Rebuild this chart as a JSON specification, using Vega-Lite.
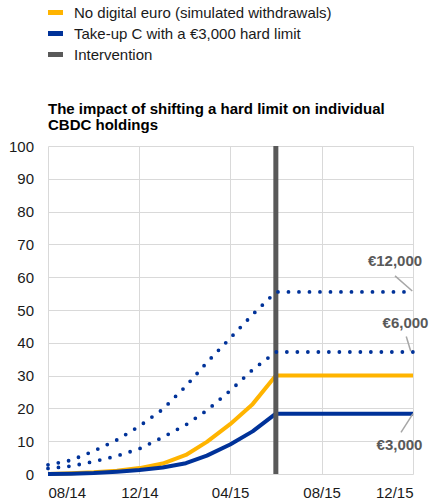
{
  "$schema": "https://vega.github.io/schema/vega-lite/v6.json",
  "autosize": {"type": "none"},
  "width": 365,
  "height": 328,
  "padding": {"left": 48, "top": 146, "right": 19, "bottom": 28},
  "background": "white",
  "config": {
    "view": {"stroke": null},
    "font": "Liberation Sans",
    "axis": {"labelFont": "Liberation Sans", "labelFontSize": 15, "labelColor": "#1a1a1a", "gridColor": "#d9d9d9", "gridWidth": 1, "domain": false, "ticks": false, "labelOverlap": false}
  },
  "title": {
    "text": ["The impact of shifting a hard limit on individual", "CBDC holdings"],
    "anchor": "start",
    "frame": "group",
    "font": "Liberation Sans",
    "fontSize": 15,
    "fontWeight": "bold",
    "color": "#000000",
    "lineHeight": 16,
    "offset": 0,
    "dy": 128
  },
  "datasets": {
    "series": [
      {"date": "2014-08-01", "series": "No digital euro (simulated withdrawals)", "value": 0},
      {"date": "2014-09-01", "series": "No digital euro (simulated withdrawals)", "value": 0.2},
      {"date": "2014-10-01", "series": "No digital euro (simulated withdrawals)", "value": 0.5},
      {"date": "2014-11-01", "series": "No digital euro (simulated withdrawals)", "value": 1.0},
      {"date": "2014-12-01", "series": "No digital euro (simulated withdrawals)", "value": 1.8},
      {"date": "2015-01-01", "series": "No digital euro (simulated withdrawals)", "value": 3.2},
      {"date": "2015-02-01", "series": "No digital euro (simulated withdrawals)", "value": 5.8},
      {"date": "2015-03-01", "series": "No digital euro (simulated withdrawals)", "value": 9.8},
      {"date": "2015-04-01", "series": "No digital euro (simulated withdrawals)", "value": 15.2},
      {"date": "2015-05-01", "series": "No digital euro (simulated withdrawals)", "value": 21.3},
      {"date": "2015-06-01", "series": "No digital euro (simulated withdrawals)", "value": 30.0},
      {"date": "2015-07-01", "series": "No digital euro (simulated withdrawals)", "value": 30.0},
      {"date": "2015-08-01", "series": "No digital euro (simulated withdrawals)", "value": 30.0},
      {"date": "2015-09-01", "series": "No digital euro (simulated withdrawals)", "value": 30.0},
      {"date": "2015-10-01", "series": "No digital euro (simulated withdrawals)", "value": 30.0},
      {"date": "2015-11-01", "series": "No digital euro (simulated withdrawals)", "value": 30.0},
      {"date": "2015-12-01", "series": "No digital euro (simulated withdrawals)", "value": 30.0},
      {"date": "2014-08-01", "series": "Take-up C with a €3,000 hard limit", "value": 0},
      {"date": "2014-09-01", "series": "Take-up C with a €3,000 hard limit", "value": 0.1},
      {"date": "2014-10-01", "series": "Take-up C with a €3,000 hard limit", "value": 0.3},
      {"date": "2014-11-01", "series": "Take-up C with a €3,000 hard limit", "value": 0.7},
      {"date": "2014-12-01", "series": "Take-up C with a €3,000 hard limit", "value": 1.2},
      {"date": "2015-01-01", "series": "Take-up C with a €3,000 hard limit", "value": 2.0},
      {"date": "2015-02-01", "series": "Take-up C with a €3,000 hard limit", "value": 3.3},
      {"date": "2015-03-01", "series": "Take-up C with a €3,000 hard limit", "value": 5.6},
      {"date": "2015-04-01", "series": "Take-up C with a €3,000 hard limit", "value": 9.0},
      {"date": "2015-05-01", "series": "Take-up C with a €3,000 hard limit", "value": 13.0},
      {"date": "2015-06-01", "series": "Take-up C with a €3,000 hard limit", "value": 18.4},
      {"date": "2015-07-01", "series": "Take-up C with a €3,000 hard limit", "value": 18.4},
      {"date": "2015-08-01", "series": "Take-up C with a €3,000 hard limit", "value": 18.4},
      {"date": "2015-09-01", "series": "Take-up C with a €3,000 hard limit", "value": 18.4},
      {"date": "2015-10-01", "series": "Take-up C with a €3,000 hard limit", "value": 18.4},
      {"date": "2015-11-01", "series": "Take-up C with a €3,000 hard limit", "value": 18.4},
      {"date": "2015-12-01", "series": "Take-up C with a €3,000 hard limit", "value": 18.4},
      {"date": "2014-08-01", "series": "€12,000 hard limit", "value": 2.8},
      {"date": "2014-09-01", "series": "€12,000 hard limit", "value": 4.2},
      {"date": "2014-10-01", "series": "€12,000 hard limit", "value": 7.0},
      {"date": "2014-11-01", "series": "€12,000 hard limit", "value": 10.4},
      {"date": "2014-12-01", "series": "€12,000 hard limit", "value": 14.6},
      {"date": "2015-01-01", "series": "€12,000 hard limit", "value": 19.7},
      {"date": "2015-02-01", "series": "€12,000 hard limit", "value": 26.8},
      {"date": "2015-03-01", "series": "€12,000 hard limit", "value": 34.0},
      {"date": "2015-04-01", "series": "€12,000 hard limit", "value": 41.4},
      {"date": "2015-05-01", "series": "€12,000 hard limit", "value": 48.6},
      {"date": "2015-06-01", "series": "€12,000 hard limit", "value": 55.5},
      {"date": "2015-07-01", "series": "€12,000 hard limit", "value": 55.5},
      {"date": "2015-08-01", "series": "€12,000 hard limit", "value": 55.5},
      {"date": "2015-09-01", "series": "€12,000 hard limit", "value": 55.5},
      {"date": "2015-10-01", "series": "€12,000 hard limit", "value": 55.5},
      {"date": "2015-11-01", "series": "€12,000 hard limit", "value": 55.5},
      {"date": "2015-12-01", "series": "€12,000 hard limit", "value": 55.5},
      {"date": "2014-08-01", "series": "€6,000 hard limit", "value": 1.7},
      {"date": "2014-09-01", "series": "€6,000 hard limit", "value": 2.4},
      {"date": "2014-10-01", "series": "€6,000 hard limit", "value": 3.8},
      {"date": "2014-11-01", "series": "€6,000 hard limit", "value": 5.5},
      {"date": "2014-12-01", "series": "€6,000 hard limit", "value": 7.7},
      {"date": "2015-01-01", "series": "€6,000 hard limit", "value": 11.2},
      {"date": "2015-02-01", "series": "€6,000 hard limit", "value": 15.0},
      {"date": "2015-03-01", "series": "€6,000 hard limit", "value": 19.4},
      {"date": "2015-04-01", "series": "€6,000 hard limit", "value": 25.4},
      {"date": "2015-05-01", "series": "€6,000 hard limit", "value": 31.8},
      {"date": "2015-06-01", "series": "€6,000 hard limit", "value": 37.2},
      {"date": "2015-07-01", "series": "€6,000 hard limit", "value": 37.2},
      {"date": "2015-08-01", "series": "€6,000 hard limit", "value": 37.2},
      {"date": "2015-09-01", "series": "€6,000 hard limit", "value": 37.2},
      {"date": "2015-10-01", "series": "€6,000 hard limit", "value": 37.2},
      {"date": "2015-11-01", "series": "€6,000 hard limit", "value": 37.2},
      {"date": "2015-12-01", "series": "€6,000 hard limit", "value": 37.2}
    ],
    "intervention": [
      {"date": "2015-06-01", "series": "Intervention", "value": 0, "value2": 100}
    ],
    "leaders": [
      {"date": "2015-11-07", "value": 60.4, "date2": "2015-11-30", "value2": 55.8},
      {"date": "2015-11-22", "value": 41.9, "date2": "2015-11-28", "value2": 37.4},
      {"date": "2015-11-15", "value": 12.7, "date2": "2015-12-01", "value2": 18.4}
    ],
    "labels": [
      {"label": "€12,000", "date": "2015-11-07", "value": 65.0},
      {"label": "€6,000", "date": "2015-11-21", "value": 46.0},
      {"label": "€3,000", "date": "2015-11-13", "value": 8.8}
    ]
  },
  "encoding": {
    "x": {
      "field": "date", "type": "temporal",
      "scale": {"type": "utc", "domain": [{"year": 2014, "month": 8, "date": 1, "utc": true}, {"year": 2015, "month": 12, "date": 1, "utc": true}]},
      "axis": {
        "title": null, "labelExpr": "utcFormat(datum.value, '%m/%y')", "labelPadding": 11, "grid": true, "labelOverlap": false,
        "values": [
          {"year": 2014, "month": 8, "date": 1, "utc": true},
          {"year": 2014, "month": 12, "date": 1, "utc": true},
          {"year": 2015, "month": 4, "date": 1, "utc": true},
          {"year": 2015, "month": 8, "date": 1, "utc": true},
          {"year": 2015, "month": 12, "date": 1, "utc": true}
        ]
      }
    },
    "y": {
      "field": "value", "type": "quantitative",
      "scale": {"domain": [0, 100], "nice": false},
      "axis": {"title": null, "values": [0, 10, 20, 30, 40, 50, 60, 70, 80, 90, 100], "labelPadding": 14.5, "grid": true, "labelOverlap": false}
    }
  },
  "layer": [
    {
      "data": {"name": "series"},
      "transform": [{"filter": {"field": "series", "oneOf": ["No digital euro (simulated withdrawals)", "Take-up C with a €3,000 hard limit"]}}],
      "mark": {"type": "line", "strokeWidth": 4, "strokeJoin": "round"},
      "encoding": {
        "color": {
          "field": "series", "type": "nominal",
          "scale": {
            "domain": ["No digital euro (simulated withdrawals)", "Take-up C with a €3,000 hard limit", "Intervention"],
            "range": ["#FFB400", "#003299", "#595959"]
          },
          "legend": {
            "orient": "none", "legendX": 0, "legendY": -141, "title": null,
            "symbolType": "M-1,-0.33H1V0.33H-1Z", "symbolSize": 225, "symbolStrokeWidth": 0,
            "labelFont": "Liberation Sans", "labelFontSize": 15, "labelColor": "#1a1a1a",
            "labelOffset": 11, "rowPadding": 5, "padding": 0, "labelLimit": 400,
            "encode": {"symbols": {"update": {"fill": {"scale": "color", "field": "value"}, "opacity": {"value": 1}}}}
          }
        }
      }
    },
    {
      "data": {"name": "intervention"},
      "mark": {"type": "rule", "strokeWidth": 5},
      "encoding": {
        "y2": {"field": "value2"},
        "color": {"field": "series", "type": "nominal"}
      }
    },
    {
      "data": {"name": "series"},
      "transform": [{"filter": {"field": "series", "oneOf": ["€12,000 hard limit", "€6,000 hard limit"]}}],
      "mark": {"type": "line", "color": "#003299", "strokeWidth": 3.8, "strokeCap": "round", "strokeDash": [0, 10.5]},
      "encoding": {
        "detail": {"field": "series", "type": "nominal"}
      }
    },
    {
      "data": {"name": "leaders"},
      "mark": {"type": "rule", "color": "#a6a6a6", "strokeWidth": 1.5},
      "encoding": {
        "x2": {"field": "date2"},
        "y2": {"field": "value2"}
      }
    },
    {
      "data": {"name": "labels"},
      "mark": {"type": "text", "font": "Liberation Sans", "fontSize": 15, "fontWeight": "bold", "color": "#595959", "align": "center", "baseline": "middle"},
      "encoding": {
        "text": {"field": "label", "type": "nominal"}
      }
    }
  ]
}
